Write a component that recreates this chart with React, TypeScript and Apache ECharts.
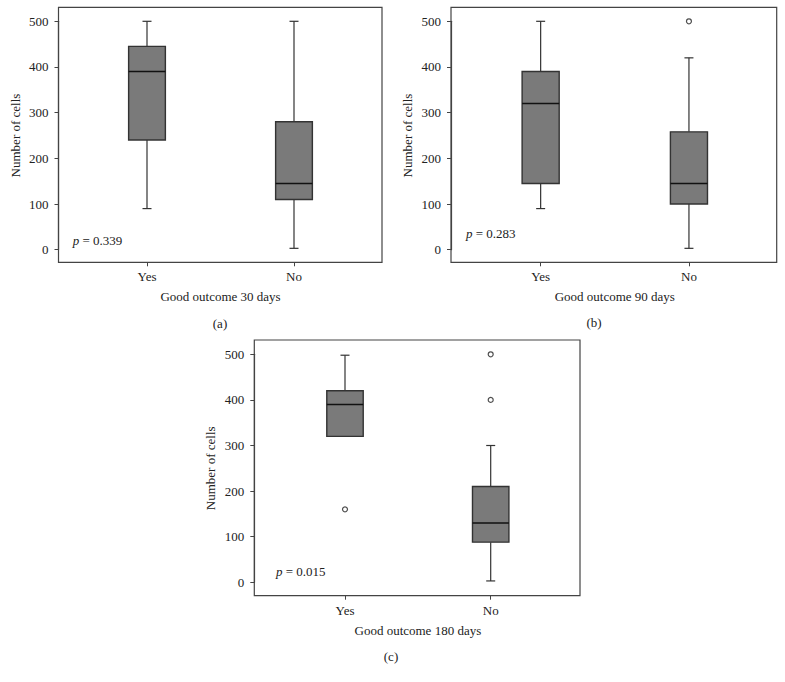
import React, { useEffect, useRef } from "react";
import * as echarts from "echarts";

const categories = ["Yes", "No"];
const yMin = 0;
const yMax = 500;
const yInterval = 100;

// [min, Q1, median, Q3, max] for Yes and No
const boxA = [
  [90, 240, 390, 445, 500],
  [3, 110, 145, 280, 500],
];
const boxB = [
  [90, 145, 320, 390, 500],
  [3, 100, 145, 258, 420],
];
const boxC = [
  [320, 320, 390, 420, 498],
  [3, 88, 130, 210, 300],
];
// [category index, value]
const outliersA: number[][] = [];
const outliersB = [[1, 500]];
const outliersC = [
  [0, 160],
  [1, 500],
  [1, 400],
];
const pValues = ["0.339", "0.283", "0.015"];
const xTitles = ["Good outcome 30 days", "Good outcome 90 days", "Good outcome 180 days"];
const yTitle = "Number of cells";
const panelLabels = ["(a)", "(b)", "(c)"];

const FONT = "'Liberation Serif', 'DejaVu Serif', serif";
const TEXT = "#222";
const FRAME = "#444";

// layout of each panel (pixels)
const panels = [
  { frame: [58.5, 7.3, 382, 262.3], grid: { left: 73.5, top: 21.3, width: 294, height: 228.4 }, p: [72.7, 240], lab: [220, 323] },
  { frame: [451, 7.3, 776.7, 262.3], grid: { left: 466.5, top: 21.3, width: 296.6, height: 228.4 }, p: [466, 233.3], lab: [594, 322.7] },
  { frame: [254.3, 340, 580, 595.7], grid: { left: 272.15, top: 354.3, width: 291.4, height: 228 }, p: [276, 571.7], lab: [391, 656] },
];
const boxes = [boxA, boxB, boxC];
const outliers = [outliersA, outliersB, outliersC];

function renderBox(params: any, api: any) {
  const x = api.value(0);
  const vmin = api.value(1);
  const q1 = api.value(2);
  const med = api.value(3);
  const q3 = api.value(4);
  const vmax = api.value(5);
  const bw = api.size([1, 0])[0] * 0.25;
  const cap = 9;
  const pMin = api.coord([x, vmin]);
  const pQ1 = api.coord([x, q1]);
  const pMed = api.coord([x, med]);
  const pQ3 = api.coord([x, q3]);
  const pMax = api.coord([x, vmax]);
  const cx = pMed[0];
  const lineStyle = { stroke: "#333", lineWidth: 1.2 };
  const children: any[] = [
    { type: "line", shape: { x1: cx, y1: pQ3[1], x2: cx, y2: pMax[1] }, style: lineStyle },
    { type: "line", shape: { x1: cx - cap / 2, y1: pMax[1], x2: cx + cap / 2, y2: pMax[1] }, style: lineStyle },
    { type: "line", shape: { x1: cx, y1: pQ1[1], x2: cx, y2: pMin[1] }, style: lineStyle },
    { type: "line", shape: { x1: cx - cap / 2, y1: pMin[1], x2: cx + cap / 2, y2: pMin[1] }, style: lineStyle },
    {
      type: "rect",
      shape: { x: cx - bw / 2, y: pQ3[1], width: bw, height: pQ1[1] - pQ3[1] },
      style: { fill: "#7a7a7a", stroke: "#333", lineWidth: 1.4 },
    },
    { type: "line", shape: { x1: cx - bw / 2, y1: pMed[1], x2: cx + bw / 2, y2: pMed[1] }, style: { stroke: "#111", lineWidth: 1.4 } },
  ];
  return { type: "group", children };
}

export default function App() {
  const ref = useRef<HTMLDivElement>(null);
  useEffect(() => {
    if (!ref.current) return;
    const chart = echarts.init(ref.current, undefined, { renderer: "svg" });
    const grid: any[] = [];
    const xAxis: any[] = [];
    const yAxis: any[] = [];
    const series: any[] = [];
    const graphic: any[] = [];
    panels.forEach((pn, i) => {
      const [fl, ft, fr, fb] = pn.frame;
      grid.push({ ...pn.grid, containLabel: false });
      xAxis.push({
        type: "category",
        gridIndex: i,
        data: categories,
        offset: fb - (pn.grid.top + pn.grid.height),
        axisLine: { show: true, onZero: false, lineStyle: { color: FRAME, width: 1.2 } },
        axisTick: { show: true, alignWithLabel: true, length: 4, lineStyle: { color: FRAME } },
        axisLabel: { color: TEXT, fontFamily: FONT, fontSize: 13, margin: 8 },
        splitLine: { show: false },
        name: xTitles[i],
        nameLocation: "middle",
        nameGap: 28,
        nameTextStyle: { color: TEXT, fontFamily: FONT, fontSize: 13 },
      });
      yAxis.push({
        type: "value",
        gridIndex: i,
        min: yMin,
        max: yMax,
        interval: yInterval,
        offset: pn.grid.left - fl,
        axisLine: { show: true, onZero: false, lineStyle: { color: FRAME, width: 1.2 } },
        axisTick: { show: true, length: 4, lineStyle: { color: FRAME } },
        axisLabel: { color: TEXT, fontFamily: FONT, fontSize: 13, margin: 10 },
        splitLine: { show: false },
        name: yTitle,
        nameLocation: "middle",
        nameGap: 37,
        nameTextStyle: { color: TEXT, fontFamily: FONT, fontSize: 13 },
      });
      series.push({
        type: "custom",
        xAxisIndex: i,
        yAxisIndex: i,
        renderItem: renderBox,
        encode: { x: 0, y: [1, 2, 3, 4, 5] },
        data: boxes[i].map((b, k) => [k, ...b]),
        clip: false,
      });
      series.push({
        type: "scatter",
        xAxisIndex: i,
        yAxisIndex: i,
        symbol: "circle",
        symbolSize: 5,
        itemStyle: { color: "#fff", borderColor: "#222", borderWidth: 1.2 },
        data: outliers[i],
        clip: false,
        z: 5,
      });
      graphic.push({
        type: "rect",
        silent: true,
        z: 10,
        shape: { x: fl, y: ft, width: fr - fl, height: fb - ft },
        style: { fill: "none", stroke: FRAME, lineWidth: 1.2 },
      });
      graphic.push({
        type: "text",
        silent: true,
        z: 10,
        x: pn.p[0],
        y: pn.p[1],
        style: {
          text: "{i|p} = " + pValues[i],
          fill: TEXT,
          fontFamily: FONT,
          fontSize: 13,
          verticalAlign: "middle",
          rich: { i: { fontStyle: "italic", fontFamily: FONT, fontSize: 13, fill: TEXT } },
        },
      });
      graphic.push({
        type: "text",
        silent: true,
        z: 10,
        x: pn.lab[0],
        y: pn.lab[1],
        style: {
          text: panelLabels[i],
          fill: TEXT,
          fontFamily: FONT,
          fontSize: 13,
          align: "center",
          verticalAlign: "middle",
        },
      });
    });
    chart.setOption({
      animation: false,
      backgroundColor: "#fff",
      grid,
      xAxis,
      yAxis,
      series,
      graphic,
    });
    return () => chart.dispose();
  }, []);
  return <div ref={ref} style={{ position: "fixed", left: 0, top: 0, width: 785, height: 682 }} />;
}
